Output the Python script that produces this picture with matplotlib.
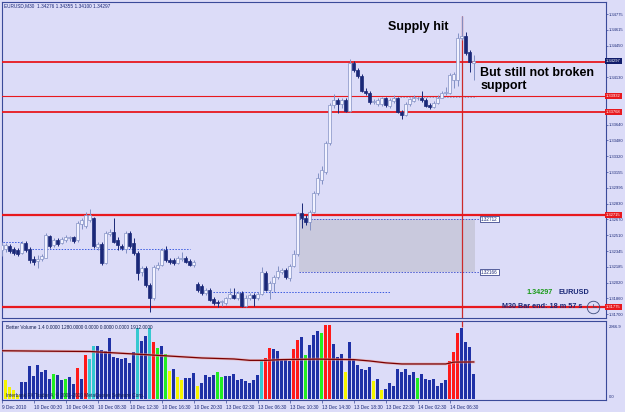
import matplotlib.pyplot as plt
from matplotlib import font_manager
from matplotlib.patches import Rectangle
import numpy as np

# EURUSD M30 candles, 9-14 Dec 2010
opens = [
    1.3236, 1.3237, 1.3240, 1.3237, 1.3236, 1.3233, 1.3243, 1.3237, 1.3226, 1.3224,
    1.3226, 1.3228, 1.3250, 1.3241, 1.3246, 1.3243, 1.3246, 1.3248, 1.3249, 1.3246,
    1.3262, 1.3260, 1.3266, 1.3268, 1.3239, 1.3242, 1.3222, 1.3252, 1.3254, 1.3246,
    1.3240, 1.3237, 1.3253, 1.3243, 1.3233, 1.3213, 1.3217, 1.3200, 1.3186, 1.3217,
    1.3220, 1.3236, 1.3225, 1.3225, 1.3222, 1.3226, 1.3227, 1.3224, 1.3220, 1.3201,
    1.3199, 1.3192, 1.3195, 1.3185, 1.3182, 1.3182, 1.3181, 1.3186, 1.3190, 1.3186,
    1.3192, 1.3178, 1.3187, 1.3190, 1.3186, 1.3191, 1.3212, 1.3195, 1.3202, 1.3208,
    1.3213, 1.3215, 1.3207, 1.3219, 1.3232, 1.3274, 1.3268, 1.3264, 1.3275, 1.3294,
    1.3307, 1.3316, 1.3345, 1.3384, 1.3389, 1.3385, 1.3389, 1.3378, 1.3427, 1.3420,
    1.3414, 1.3399, 1.3397, 1.3387, 1.3385, 1.3385, 1.3391, 1.3383, 1.3388, 1.3391,
    1.3377, 1.3374, 1.3385, 1.3388, 1.3391, 1.3391, 1.3389, 1.3384, 1.3382, 1.3386,
    1.3392, 1.3397, 1.3397, 1.3410, 1.3410, 1.3453, 1.3455, 1.3439, 1.34276]
highs = [
    1.3244, 1.3243, 1.3242, 1.3239, 1.3238, 1.3245, 1.3245, 1.3239, 1.3230, 1.3231,
    1.3232, 1.3253, 1.3251, 1.3248, 1.3248, 1.3249, 1.3251, 1.3250, 1.3250, 1.3265,
    1.3268, 1.3275, 1.3278, 1.3270, 1.3244, 1.3244, 1.3255, 1.3257, 1.3268, 1.3249,
    1.3242, 1.3255, 1.3255, 1.3248, 1.3235, 1.3219, 1.3219, 1.3202, 1.3220, 1.3223,
    1.3238, 1.3240, 1.3228, 1.3227, 1.3230, 1.3234, 1.3230, 1.3226, 1.3225, 1.3203,
    1.3201, 1.3197, 1.3197, 1.3188, 1.3184, 1.3184, 1.3188, 1.3197, 1.3197, 1.3194,
    1.3194, 1.3190, 1.3192, 1.3192, 1.3193, 1.3218, 1.3214, 1.3204, 1.3210, 1.3219,
    1.3217, 1.3217, 1.3221, 1.3236, 1.3275, 1.3284, 1.3272, 1.3277, 1.3296, 1.3315,
    1.3322, 1.3347, 1.3386, 1.3396, 1.3391, 1.3392, 1.3391, 1.3431, 1.3429, 1.3422,
    1.3416, 1.3402, 1.3399, 1.3390, 1.3391, 1.3393, 1.3393, 1.3391, 1.3395, 1.3393,
    1.3379, 1.3387, 1.3392, 1.3395, 1.3393, 1.3399, 1.3391, 1.3386, 1.3388, 1.3395,
    1.3399, 1.3403, 1.3417, 1.3418, 1.3458, 1.3476, 1.3459, 1.3441, 1.34355]
lows = [
    1.3230, 1.3234, 1.3233, 1.3231, 1.3230, 1.3232, 1.3234, 1.3222, 1.3220, 1.3217,
    1.3224, 1.3227, 1.3238, 1.3239, 1.3240, 1.3242, 1.3244, 1.3245, 1.3243, 1.3244,
    1.3257, 1.3258, 1.3264, 1.3238, 1.3236, 1.3220, 1.3221, 1.3250, 1.3243, 1.3236,
    1.3236, 1.3233, 1.3238, 1.3231, 1.3205, 1.3209, 1.3198, 1.3172, 1.3184, 1.3215,
    1.3219, 1.3223, 1.3221, 1.3220, 1.3221, 1.3224, 1.3222, 1.3219, 1.3218, 1.3193,
    1.3190, 1.3190, 1.3183, 1.3179, 1.3177, 1.3178, 1.3179, 1.3185, 1.3185, 1.3184,
    1.3177, 1.3177, 1.3184, 1.3178, 1.3184, 1.3190, 1.3194, 1.3185, 1.3193, 1.3206,
    1.3211, 1.3206, 1.3204, 1.3218, 1.3230, 1.3258, 1.3261, 1.3256, 1.3274, 1.3292,
    1.3303, 1.3314, 1.3343, 1.3381, 1.3376, 1.3381, 1.3377, 1.3377, 1.3418, 1.3412,
    1.3398, 1.3395, 1.3385, 1.3385, 1.3383, 1.3383, 1.3382, 1.3381, 1.3386, 1.3376,
    1.3370, 1.3373, 1.3383, 1.3387, 1.3389, 1.3387, 1.3382, 1.3380, 1.3381, 1.3385,
    1.3391, 1.3395, 1.3396, 1.3402, 1.3404, 1.3451, 1.3436, 1.3418, 1.34100]
closes = [
    1.3241, 1.3241, 1.3235, 1.3233, 1.3232, 1.3243, 1.3236, 1.3225, 1.3223, 1.3226,
    1.3230, 1.3251, 1.3240, 1.3246, 1.3242, 1.3247, 1.3249, 1.3249, 1.3245, 1.3263,
    1.3266, 1.3272, 1.3272, 1.3240, 1.3242, 1.3222, 1.3253, 1.3254, 1.3244, 1.3241,
    1.3238, 1.3253, 1.3240, 1.3233, 1.3212, 1.3217, 1.3200, 1.3186, 1.3218, 1.3220,
    1.3236, 1.3225, 1.3223, 1.3222, 1.3227, 1.3227, 1.3223, 1.3220, 1.3223, 1.3195,
    1.3192, 1.3195, 1.3184, 1.3181, 1.3181, 1.3183, 1.3186, 1.3191, 1.3187, 1.3192,
    1.3178, 1.3187, 1.3190, 1.3186, 1.3191, 1.3213, 1.3195, 1.3202, 1.3208, 1.3214,
    1.3215, 1.3208, 1.3219, 1.3232, 1.3274, 1.3268, 1.3264, 1.3275, 1.3294, 1.3309,
    1.3318, 1.3345, 1.3384, 1.3389, 1.3385, 1.3389, 1.3378, 1.3427, 1.3420, 1.3414,
    1.3399, 1.3397, 1.3387, 1.3388, 1.3389, 1.3391, 1.3384, 1.3389, 1.3392, 1.3377,
    1.3374, 1.3385, 1.3390, 1.3392, 1.3392, 1.3389, 1.3383, 1.3382, 1.3386, 1.3392,
    1.3397, 1.3398, 1.3415, 1.3416, 1.3453, 1.3455, 1.3438, 1.3428, 1.34297]

# Better Volume histogram + its average line
volumes = [
    1160, 760, 480, 360, 160, 680, 680, 1320, 920, 1360,
    1080, 1160, 800, 1000, 960, 760, 800, 880, 600, 1240,
    800, 1760, 1600, 2120, 2120, 1960, 1920, 2440, 1680, 1640,
    1600, 1640, 1440, 1880, 2840, 2320, 2520, 2840, 2280, 2040,
    2120, 1800, 1120, 1200, 880, 760, 840, 840, 1040, 520,
    640, 960, 880, 960, 1080, 880, 920, 920, 1000, 760,
    800, 720, 640, 760, 960, 1520, 1640, 2040, 2000, 1920,
    1600, 1600, 1520, 2000, 2360, 2480, 1760, 2160, 2560, 2720,
    2640, 2950, 2967, 2200, 1680, 1800, 1080, 2280, 1560, 1360,
    1200, 1160, 1280, 720, 800, 360, 400, 640, 520, 1200,
    1080, 1200, 960, 1080, 840, 1000, 800, 760, 800, 520,
    640, 760, 1520, 1880, 2640, 2840, 2280, 2080, 1000]
# n normal, y low volume, g churn, r climax up, c climax down
vol_class = [
    'n', 'y', 'y', 'y', 'y', 'n', 'n', 'n', 'n', 'n',
    'n', 'n', 'n', 'g', 'n', 'n', 'g', 'n', 'n', 'r',
    'n', 'r', 'c', 'c', 'n', 'n', 'n', 'n', 'n', 'n',
    'n', 'n', 'n', 'n', 'c', 'n', 'n', 'c', 'r', 'g',
    'n', 'g', 'y', 'n', 'y', 'y', 'n', 'n', 'n', 'y',
    'n', 'n', 'n', 'n', 'g', 'g', 'n', 'n', 'n', 'n',
    'n', 'n', 'n', 'n', 'n', 'c', 'r', 'r', 'n', 'n',
    'n', 'n', 'n', 'r', 'r', 'n', 'g', 'n', 'n', 'n',
    'g', 'r', 'r', 'n', 'n', 'n', 'y', 'n', 'n', 'n',
    'n', 'n', 'n', 'y', 'n', 'y', 'n', 'n', 'n', 'n',
    'n', 'n', 'n', 'n', 'g', 'n', 'n', 'n', 'n', 'n',
    'n', 'n', 'r', 'r', 'r', 'n', 'n', 'n', 'n']
ma_bars = [0, 10, 22, 33, 39, 50, 58, 62, 66, 70, 79, 88, 92, 96, 100, 111, 113, 118]
ma_values = [1935, 1920, 1905, 1805, 1750, 1645, 1605, 1550, 1550, 1580, 1600, 1580,
             1525, 1450, 1405, 1405, 1480, 1485]

tick_bars = [0, 8, 16, 24, 32, 40, 48, 56, 64, 72, 80, 88, 96, 104, 112]
tick_labels = ["9 Dec 2010", "10 Dec 00:30", "10 Dec 04:30", "10 Dec 08:30",
               "10 Dec 12:30", "10 Dec 16:30", "10 Dec 20:30", "13 Dec 02:30",
               "13 Dec 06:30", "13 Dec 10:30", "13 Dec 14:30", "13 Dec 18:30",
               "13 Dec 22:30", "14 Dec 02:30", "14 Dec 06:30"]
price_ticks = [1.34775, 1.34615, 1.34450, 1.34130, 1.33640, 1.33480, 1.33320,
               1.33155, 1.32995, 1.32830, 1.32670, 1.32510, 1.32345, 1.32185,
               1.32020, 1.31860, 1.31700]

# horizontal support/resistance lines
levels = [1.34283, 1.33932, 1.33768, 1.32715, 1.31775]
level_widths = [1.3, 0.8, 1.3, 1.6, 1.6]
current_price = 1.34297
zone_top, zone_bottom = 1.32674, 1.32131
zone_labels = ["1.32712", "1.32166"]

# colours
BG = '#dcdcf8'
FRAME = '#3a4a9a'
NAVY = '#1a2878'
BULL_EDGE = '#8290c4'
BULL_FILL = '#f2f2ff'
RED = '#e8191e'
VOL_COLORS = {'n': '#1f31a6', 'y': '#f4f400', 'g': '#22ee22', 'r': '#ff1a1a', 'c': '#36c8d0'}

names = {f.name for f in font_manager.fontManager.ttflist}
if 'Liberation Sans Narrow' in names:
    NARROW, INFO_SIZE = 'Liberation Sans Narrow', 6.2
else:
    NARROW, INFO_SIZE = 'Liberation Sans', 5.2
plt.rcParams['font.family'] = ['Liberation Sans', 'DejaVu Sans']

W, H = 625, 412
fig = plt.figure(figsize=(W / 100, H / 100), dpi=100, facecolor=BG)
ax = fig.add_axes([2 / W, 1 - 318 / H, 604 / W, 316 / H], facecolor=BG)
axv = fig.add_axes([2 / W, 1 - 400 / H, 604 / W, 79 / H], facecolor=BG)

o = np.array(opens); h = np.array(highs); l = np.array(lows); c = np.array(closes)
x = np.arange(len(o))
up = c >= o
body_lo = np.minimum(o, c)
body_h = np.maximum(np.abs(c - o), 0.00004)

# candles
ax.vlines(x[up], l[up], h[up], color=BULL_EDGE, lw=0.7, zorder=4)
ax.vlines(x[~up], l[~up], h[~up], color=NAVY, lw=0.7, zorder=4)
ax.bar(x[up], body_h[up], bottom=body_lo[up], width=0.7, color=BULL_FILL,
       edgecolor=BULL_EDGE, lw=0.5, zorder=5)
ax.bar(x[~up], body_h[~up], bottom=body_lo[~up], width=0.7, color=NAVY,
       edgecolor=NAVY, lw=0.5, zorder=5)

for p, lw in zip(levels, level_widths):
    ax.axhline(p, color=RED, lw=lw, zorder=3)

# grey zone with its dotted borders and price tags
ax.add_patch(Rectangle((74.3, zone_bottom), 44, zone_top - zone_bottom,
                       facecolor='#c9c9dd', edgecolor='none', zorder=1))
for p, lab in zip([zone_top, zone_bottom], zone_labels):
    ax.plot([74.3, 119.6], [p, p], ls=(0, (1.5, 1.5)), color='#4a5ad0', lw=0.7, zorder=2)
    ax.text(119.8, p, lab, fontsize=3.3, color=NAVY, va='center', ha='left', zorder=6,
            bbox=dict(boxstyle='square,pad=0.2', fc='white', ec=NAVY, lw=0.5))

# dotted trend objects
for x0, x1, p, col in [(-0.5, 5, 1.32435, '#3a5ae0'), (7.6, 47, 1.32364, '#3a5ae0'),
                       (52.8, 97.1, 1.31926, '#3a5ae0'), (99.5, 118.5, 1.33922, '#9aa0c8')]:
    ax.plot([x0, x1], [p, p], ls=(0, (1.5, 1.5)), color=col, lw=0.7, zorder=2)

ax.vlines(115, 1.3166, 1.3476, color='#cc2a2a', lw=0.9, zorder=2)

ax.set_xlim(0.075, 151.075)
ax.set_ylim(1.31660, 1.34899)
ax.yaxis.tick_right()
ax.set_yticks(price_ticks)
ax.set_yticklabels([f"{p:.5f}" for p in price_ticks])
ax.tick_params(axis='y', length=1.5, width=0.5, pad=0.6, labelsize=3.0,
               colors=FRAME, labelcolor=NAVY)
ax.set_xticks([])
for s in ax.spines.values():
    s.set_color(FRAME)
    s.set_linewidth(0.8)

# price tags on the right axis
ty = ax.get_yaxis_transform()
for p in levels[1:]:
    ax.text(1.0, p, f"{p:.5f}", transform=ty, fontsize=3.0, color='white', ha='left',
            va='center', clip_on=False, zorder=7,
            bbox=dict(boxstyle='square,pad=0.25', fc=RED, ec='none'))
ax.text(1.0, current_price, f"{current_price:.5f}", transform=ty, fontsize=3.0,
        color='white', ha='left', va='center', clip_on=False, zorder=7,
        bbox=dict(boxstyle='square,pad=0.25', fc='#101c6a', ec='none'))

# annotations
ax.text(96.6, 1.34642, "Supply hit", fontsize=9, fontweight='bold', color='black',
        ha='left', va='center', zorder=8)
ax.text(119.6, 1.34104, "But still not broken\nsupport", fontsize=9, fontweight='bold',
        color='black', ha='left', va='center', linespacing=1.2, zorder=8)
ax.text(131.3, 1.31926, "1.34297", fontsize=INFO_SIZE, fontweight='bold', color='#1a9a1a',
        family=NARROW, ha='left', va='center', zorder=8)
ax.text(139.1, 1.31926, "EURUSD", fontsize=INFO_SIZE, fontweight='bold', color=NAVY,
        family=NARROW, ha='left', va='center', zorder=8)
ax.text(145.2, 1.31775, "M30 Bar end: 18 m 57 s", fontsize=INFO_SIZE, fontweight='bold',
        color=NAVY, family=NARROW, ha='right', va='center', zorder=8)
ax.plot([147.7], [1.31775], marker='o', ms=9, mfc='none', mec='#3a4a7a', mew=0.6,
        zorder=8)
ax.plot([147.7, 147.7, 148.6], [1.31800, 1.31775, 1.31775], color='#3a4a7a', lw=0.5,
        zorder=8)

# volume panel
axv.bar(x, volumes, width=0.75, color=[VOL_COLORS[k] for k in vol_class],
        edgecolor='none', zorder=2)
axv.plot(ma_bars, ma_values, color='#e8a0a0', lw=2.0, zorder=3, alpha=0.6)
axv.plot(ma_bars, ma_values, color='#7a0000', lw=0.9, zorder=4)
axv.vlines(115, 2900, 3128, color='#cc2a2a', lw=0.9, zorder=5)
axv.set_xlim(0.075, 151.075)
axv.set_ylim(-40, 3128)
axv.set_yticks([])
axv.set_xticks(tick_bars)
axv.set_xticklabels(tick_labels, ha='left')
axv.tick_params(axis='x', length=2, width=0.5, pad=1.5, labelsize=3.4,
                colors=FRAME, labelcolor=NAVY)
for s in axv.spines.values():
    s.set_color(FRAME)
    s.set_linewidth(0.8)
axv.text(4 / 604, 0.95, "Better Volume 1.4 0.0000 1280.0000 0.0000 0.0000 0.0000 1912.0000",
         transform=axv.transAxes, fontsize=3.4, color='#101c50', va='top', ha='left',
         zorder=6)
axv.text(4 / 604, 0.02, "Interbank FX Trader 4, \u00a9 2001-2010 MetaQuotes Software Corp.",
         transform=axv.transAxes, fontsize=3.4, color='#101c50', va='bottom', ha='left',
         zorder=6)
axv.text(1.004, 0.93, "2966.9", transform=axv.transAxes, fontsize=3.0, color=NAVY,
         va='center', ha='left', clip_on=False)
axv.text(1.004, 0.04, "0.0", transform=axv.transAxes, fontsize=3.0, color=NAVY,
         va='center', ha='left', clip_on=False)

fig.text(4 / W, 1 - 6 / H, "EURUSD,M30  1.34276 1.34355 1.34100 1.34297",
         fontsize=3.4, color=NAVY, va='center', ha='left')

fig.savefig('out.png', dpi=100, facecolor=BG)
